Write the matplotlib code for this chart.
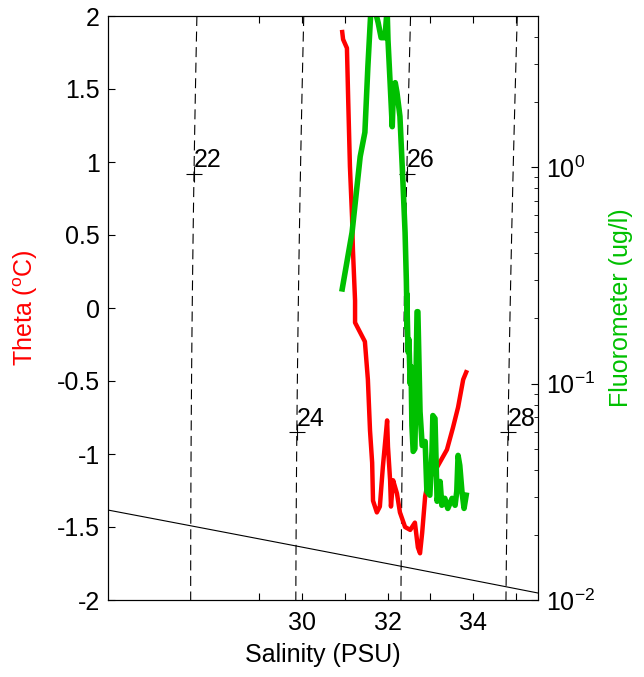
import numpy as np
import matplotlib
matplotlib.use("Agg")
import matplotlib.pyplot as plt

plt.rcParams['font.family'] = ['Liberation Sans', 'DejaVu Sans']
plt.rcParams['mathtext.fontset'] = 'custom'
plt.rcParams['mathtext.rm'] = 'Liberation Sans'
plt.rcParams['mathtext.it'] = 'Liberation Sans:italic'
plt.rcParams['mathtext.default'] = 'regular'

# --- CTD cast: salinity / potential temperature ---
sal_theta = [30.94, 30.96, 31.05, 31.08, 31.12, 31.17, 31.19, 31.24, 31.24, 31.47,
             31.54, 31.59, 31.64, 31.66, 31.75, 31.82, 31.89, 31.99, 32.01, 32.06,
             32.08, 32.13, 32.18, 32.22, 32.29, 32.41, 32.53, 32.64, 32.71, 32.76,
             32.81, 32.88, 32.95, 33.16, 33.39, 33.53, 33.65, 33.77, 33.84]
theta = [1.89, 1.84, 1.78, 1.42, 0.97, 0.62, 0.40, 0.05, -0.10, -0.23,
         -0.49, -0.84, -1.06, -1.32, -1.40, -1.36, -1.09, -0.77, -0.95, -1.18,
         -1.36, -1.18, -1.23, -1.27, -1.40, -1.50, -1.52, -1.47, -1.64, -1.68,
         -1.54, -1.29, -1.18, -1.09, -0.97, -0.82, -0.68, -0.49, -0.44]

# --- same cast: salinity / fluorometer (ug/l) ---
sal_fluor = [30.94, 31.17, 31.36, 31.47, 31.54, 31.61, 31.71, 31.78, 31.85, 31.94,
             31.99, 32.01, 32.06, 32.11, 32.13, 32.18, 32.22, 32.29, 32.36, 32.41,
             32.44, 32.46, 32.45, 32.48, 32.50, 32.53, 32.55, 32.57, 32.60, 32.64,
             32.69, 32.71, 32.76, 32.81, 32.88, 32.92, 32.99, 33.04, 33.06, 33.11,
             33.16, 33.23, 33.27, 33.34, 33.41, 33.51, 33.58, 33.62, 33.65, 33.69,
             33.74, 33.79, 33.84]
fluor = [0.274, 0.50, 1.12, 1.45, 2.92, 5.3, 5.3, 4.66, 3.97, 3.97,
         5.4, 3.89, 2.46, 1.54, 2.06, 2.46, 2.22, 1.72, 0.853, 0.50,
         0.30, 0.18, 0.26, 0.14, 0.16, 0.10, 0.12, 0.064, 0.0486, 0.050,
         0.215, 0.215, 0.0743, 0.0518, 0.054, 0.0318, 0.0305, 0.0486, 0.0712, 0.069,
         0.0286, 0.0353, 0.0274, 0.0295, 0.0265, 0.0295, 0.0274, 0.0318, 0.0466, 0.0419,
         0.0318, 0.0265, 0.0305]

sigma_levels = [22, 24, 26, 28]
label_theta = [0.92, -0.85, 0.92, -0.85]

s_lim = (25.46, 35.52)
t_lim = (-2, 2)
f_lim = (0.01, 5)

FS = 18


def sw_dens0(S, T):
    """UNESCO 1983 (EOS-80) density of seawater at zero pressure."""
    rho_w = (999.842594 + 6.793952e-2 * T - 9.095290e-3 * T**2 + 1.001685e-4 * T**3
             - 1.120083e-6 * T**4 + 6.536332e-9 * T**5)
    a = 0.824493 - 4.0899e-3 * T + 7.6438e-5 * T**2 - 8.2467e-7 * T**3 + 5.3875e-9 * T**4
    b = -5.72466e-3 + 1.0227e-4 * T - 1.6546e-6 * T**2
    return rho_w + a * S + b * S**1.5 + 4.8314e-4 * S**2


def freezing_point(S):
    return -0.0575 * S + 1.710523e-3 * S**1.5 - 2.154996e-4 * S**2


def salinity_at(sig, T, lo=20.0, hi=40.0):
    for _ in range(60):
        mid = 0.5 * (lo + hi)
        if sw_dens0(mid, T) - 1000 < sig:
            lo = mid
        else:
            hi = mid
    return 0.5 * (lo + hi)


fig = plt.figure(figsize=(6.44, 6.77), dpi=100)
ax = fig.add_axes([108 / 644, 1 - 600 / 677, 430 / 644, 584 / 677])

# isopycnals
sg, tg = np.meshgrid(np.linspace(s_lim[0], s_lim[1], 60), np.linspace(t_lim[0], t_lim[1], 40))
ax.contour(sg, tg, sw_dens0(sg, tg) - 1000, levels=sigma_levels,
           colors='k', linestyles=[(0, (9, 5))], linewidths=0.8)
for lev, tl in zip(sigma_levels, label_theta):
    sl = salinity_at(lev, tl)
    ax.plot(sl, tl, marker='+', color='k', markersize=12, markeredgewidth=0.8)
    ax.text(sl, tl + 0.01, str(lev), ha='left', va='bottom', fontsize=FS)

# freezing line
sf = np.linspace(s_lim[0], s_lim[1], 50)
ax.plot(sf, freezing_point(sf), color='k', lw=0.8)

ax.plot(sal_theta, theta, color='#ff0000', lw=3.2, solid_joinstyle='round')

ax.set_xlim(*s_lim)
ax.set_ylim(*t_lim)
ax.set_xticks([29, 30, 31, 32, 33, 34, 35])
ax.set_xticklabels(['', '30', '', '32', '', '34', ''])
ax.set_yticks(np.arange(-2, 2.01, 0.5))
ax.set_yticklabels(['-2', '-1.5', '-1', '-0.5', '0', '0.5', '1', '1.5', '2'])
ax.tick_params(axis='x', direction='in', top=True, length=5, labelsize=FS, pad=8)
ax.tick_params(axis='y', direction='in', right=False, length=5, labelsize=FS, pad=6)
ax.set_xlabel('Salinity (PSU)', fontsize=FS, labelpad=6)
ax.set_ylabel(r'Theta ($^o$C)', fontsize=FS, color='#ff0000', labelpad=12)

ax2 = ax.twinx()
ax2.set_yscale('log')
ax2.plot(sal_fluor, fluor, color='#00c000', lw=4.0, solid_joinstyle='round')
ax2.set_ylim(*f_lim)
ax2.tick_params(axis='y', which='major', direction='in', length=5, labelsize=FS, pad=6)
ax2.tick_params(axis='y', which='minor', direction='in', length=3)
ax2.set_ylabel('Fluorometer (ug/l)', fontsize=FS, color='#00c000', labelpad=10)

for a in (ax, ax2):
    for sp in a.spines.values():
        sp.set_linewidth(0.8)

fig.savefig('out.png', dpi=100)
